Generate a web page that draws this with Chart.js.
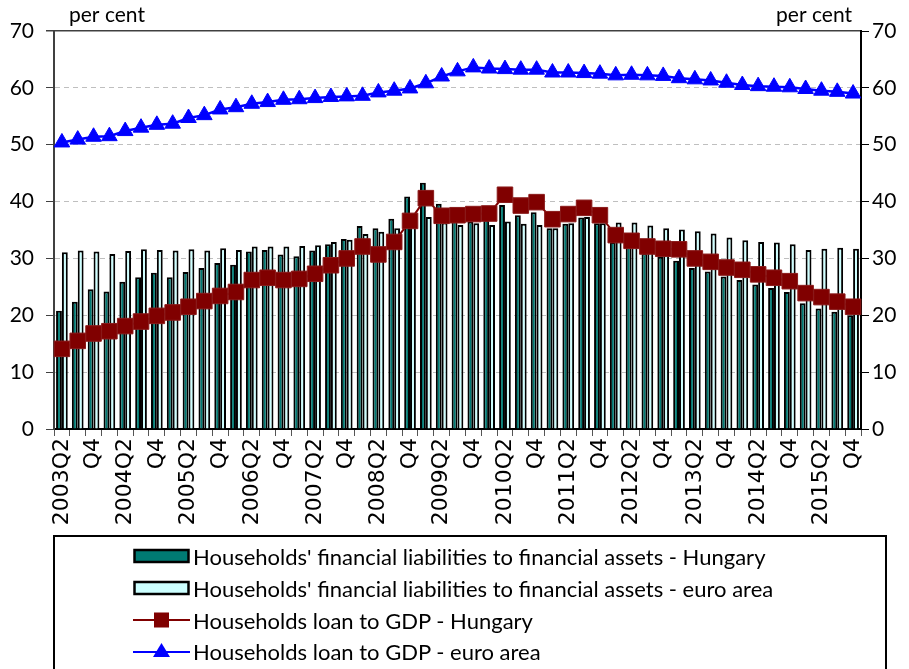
<!DOCTYPE html>
<html>
<head>
<meta charset="utf-8">
<script src="https://cdn.jsdelivr.net/npm/chart.js@4.4.1/dist/chart.umd.min.js"></script>
<style>
  html, body { margin: 0; padding: 0; background: #fff; }
  #wrap { position: relative; width: 909px; height: 669px; overflow: hidden; }
  #chart { display: block; }
  #legend {
    position: absolute; left: 53px; top: 535px; width: 834px; height: 140px;
    border: 2px solid #000; box-sizing: border-box;
    font-family: Lato, "Open Sans", sans-serif; font-size: 22px; color: #000;
  }
  .row { position: absolute; left: 78px; height: 28px; display: flex; align-items: center; white-space: nowrap; }
  .row svg { margin-right: 3px; }
</style>
</head>
<body>
<div id="wrap">
  <canvas id="chart" width="909" height="669"></canvas>
  <div id="legend"></div>
</div>
<script>
const categories = [
  '2003Q2','2003Q3','2003Q4',
  '2004Q1','2004Q2','2004Q3','2004Q4',
  '2005Q1','2005Q2','2005Q3','2005Q4',
  '2006Q1','2006Q2','2006Q3','2006Q4',
  '2007Q1','2007Q2','2007Q3','2007Q4',
  '2008Q1','2008Q2','2008Q3','2008Q4',
  '2009Q1','2009Q2','2009Q3','2009Q4',
  '2010Q1','2010Q2','2010Q3','2010Q4',
  '2011Q1','2011Q2','2011Q3','2011Q4',
  '2012Q1','2012Q2','2012Q3','2012Q4',
  '2013Q1','2013Q2','2013Q3','2013Q4',
  '2014Q1','2014Q2','2014Q3','2014Q4',
  '2015Q1','2015Q2','2015Q3','2015Q4'
];

const tickLabels = [
  '2003Q2','','Q4',
  '','2004Q2','','Q4',
  '','2005Q2','','Q4',
  '','2006Q2','','Q4',
  '','2007Q2','','Q4',
  '','2008Q2','','Q4',
  '','2009Q2','','Q4',
  '','2010Q2','','Q4',
  '','2011Q2','','Q4',
  '','2012Q2','','Q4',
  '','2013Q2','','Q4',
  '','2014Q2','','Q4',
  '','2015Q2','','Q4'
];

// liabilities to financial assets (bars)
const huLiabilities = [
  20.8, 22.4, 24.6, 24.2, 25.9, 26.7, 27.5, 26.7, 27.6, 28.3,
  29.2, 28.9, 31.2, 31.5, 30.7, 30.4, 31.4, 32.5, 33.4, 35.7,
  35.3, 37.0, 40.9, 43.3, 39.6, 36.8, 36.5, 36.8, 39.4, 37.6,
  38.1, 35.3, 36.1, 37.2, 36.2, 32.9, 32.1, 30.9, 30.3, 29.6,
  28.3, 27.7, 26.8, 26.2, 25.4, 24.8, 24.1, 22.1, 21.2, 20.6,
  20.0
];
const eaLiabilities = [
  31.1, 31.4, 31.2, 30.8, 31.3, 31.6, 31.5, 31.4, 31.6, 31.4,
  31.8, 31.5, 32.1, 32.1, 32.1, 32.2, 32.3, 32.9, 33.3, 34.3,
  34.7, 35.3, 35.9, 37.3, 36.3, 35.9, 36.2, 35.9, 36.5, 36.1,
  35.9, 35.3, 36.2, 37.3, 36.2, 36.3, 36.3, 35.8, 35.3, 35.1,
  34.8, 34.4, 33.7, 33.2, 32.9, 32.8, 32.5, 31.5, 31.7, 31.9,
  31.7
];

// loans to GDP (lines)
const huLoanGdp = [
  14.1, 15.5, 16.8, 17.2, 18.1, 18.9, 19.9, 20.5, 21.5, 22.5,
  23.4, 24.1, 26.2, 26.6, 26.2, 26.4, 27.3, 28.8, 30.0, 32.1,
  30.7, 32.9, 36.6, 40.6, 37.5, 37.6, 37.8, 37.9, 41.2, 39.3,
  39.9, 36.9, 37.8, 38.9, 37.6, 34.1, 33.1, 32.1, 31.7, 31.6,
  30.0, 29.4, 28.4, 28.0, 27.2, 26.6, 26.0, 23.9, 23.2, 22.4,
  21.5
];
const eaLoanGdp = [
  50.4, 50.9, 51.4, 51.5, 52.4, 53.0, 53.5, 53.7, 54.7, 55.2,
  56.2, 56.6, 57.2, 57.5, 57.9, 58.0, 58.2, 58.4, 58.5, 58.6,
  59.2, 59.5, 59.9, 60.8, 62.0, 62.9, 63.6, 63.4, 63.3, 63.2,
  63.2, 62.7, 62.7, 62.6, 62.5, 62.2, 62.3, 62.2, 62.1, 61.7,
  61.5, 61.3, 60.9, 60.5, 60.3, 60.2, 60.1, 59.8, 59.5, 59.3,
  59.0
];

const seriesNames = [
  "Households' financial liabilities to financial assets - Hungary",
  "Households' financial liabilities to financial assets - euro area",
  'Households loan to GDP - Hungary',
  'Households loan to GDP - euro area'
];

const tealFill = '#007A73';
const paleFill = '#CCFFFF';
const maroon = '#800000';
const blue = '#0000FF';
const gridGrey = '#BFBFBF';
const labelFont = 'Lato';

// "per cent" above both axes
const perCentPlugin = {
  id: 'perCent',
  afterDraw(chart) {
    const { ctx, chartArea } = chart;
    ctx.save();
    ctx.font = '21px ' + labelFont;
    ctx.fillStyle = '#000';
    ctx.textBaseline = 'alphabetic';
    ctx.textAlign = 'left';
    ctx.fillText('per cent', chartArea.left + 15, chartArea.top - 9);
    ctx.textAlign = 'right';
    ctx.fillText('per cent', chartArea.right - 9, chartArea.top - 9);
    ctx.restore();
  }
};

const yTicks = { stepSize: 10, color: '#000', font: { family: labelFont, size: 21 } };

new Chart(document.getElementById('chart'), {
  type: 'bar',
  data: {
    labels: categories,
    datasets: [
      {
        type: 'line', label: seriesNames[3], data: eaLoanGdp, order: 0,
        borderColor: blue, backgroundColor: blue, borderWidth: 2.5,
        pointStyle: 'triangle', pointRadius: 9, pointBorderWidth: 1,
        pointBorderColor: blue, pointBackgroundColor: blue, tension: 0
      },
      {
        type: 'line', label: seriesNames[2], data: huLoanGdp, order: 0,
        borderColor: maroon, backgroundColor: maroon, borderWidth: 2,
        pointStyle: 'rect', pointRadius: 11, pointBorderWidth: 1,
        pointBorderColor: '#8a1a1a', pointBackgroundColor: maroon, tension: 0
      },
      {
        label: seriesNames[0], data: huLiabilities, order: 1,
        backgroundColor: tealFill, borderColor: '#000', borderWidth: 2,
        categoryPercentage: 0.74, barPercentage: 1.0
      },
      {
        label: seriesNames[1], data: eaLiabilities, order: 1,
        backgroundColor: paleFill, borderColor: '#000', borderWidth: 2,
        categoryPercentage: 0.74, barPercentage: 1.0
      }
    ]
  },
  options: {
    responsive: false,
    animation: false,
    layout: { padding: { top: 31, left: 0, right: 0, bottom: 0 } },
    plugins: {
      legend: { display: false },
      tooltip: { enabled: false }
    },
    scales: {
      x: {
        grid: {
          offset: true, drawOnChartArea: false, drawTicks: true,
          tickLength: 7, tickColor: '#555', lineWidth: 1
        },
        border: { color: '#000', width: 2 },
        ticks: {
          autoSkip: false, maxRotation: 90, minRotation: 90, padding: 2,
          color: '#000', font: { family: 'DejaVu Sans', size: 22 },
          callback: (v, i) => tickLabels[i]
        },
        afterFit(s) { s.height = 240; }
      },
      y: {
        position: 'left', min: 0, max: 70,
        ticks: Object.assign({ padding: 12 }, yTicks),
        grid: {
          color: c => c.tick.value === 70 ? '#404040' : (c.tick.value === 0 ? 'rgba(0,0,0,0)' : gridGrey),
          lineWidth: c => c.tick.value === 70 ? 1.5 : 1,
          tickColor: '#404040', tickLength: 8
        },
        border: {
          color: '#404040', width: 2,
          dash: c => (c.tick && c.tick.value !== 70) ? [5, 4] : []
        },
        afterFit(s) { s.width = 54; }
      },
      y2: {
        position: 'right', min: 0, max: 70,
        ticks: Object.assign({ padding: 3 }, yTicks),
        grid: { drawOnChartArea: false, tickColor: '#000', tickLength: 8 },
        border: { color: '#000', width: 2 },
        afterFit(s) { s.width = 48; }
      }
    }
  },
  plugins: [perCentPlugin]
});

// legend below the plot
const legendRows = [
  { name: seriesNames[0], kind: 'bar', color: tealFill },
  { name: seriesNames[1], kind: 'bar', color: paleFill },
  { name: seriesNames[2], kind: 'rect', color: maroon },
  { name: seriesNames[3], kind: 'tri', color: blue }
];
const rowTops = [5, 37, 69, 100];
const legendBox = document.getElementById('legend');
legendRows.forEach((r, i) => {
  let svg;
  if (r.kind === 'bar') {
    svg = `<svg width="57" height="16"><rect x="1.5" y="2" width="54" height="12" fill="${r.color}" stroke="#000" stroke-width="2.5"/></svg>`;
  } else if (r.kind === 'rect') {
    svg = `<svg width="57" height="18"><line x1="0" y1="9" x2="57" y2="9" stroke="${r.color}" stroke-width="2"/><rect x="21" y="1.5" width="15" height="15" fill="${r.color}"/></svg>`;
  } else {
    svg = `<svg width="57" height="18"><line x1="0" y1="10" x2="57" y2="10" stroke="${r.color}" stroke-width="2"/><polygon points="28.5,1 37,15 20,15" fill="${r.color}"/></svg>`;
  }
  const row = document.createElement('div');
  row.className = 'row';
  row.style.top = rowTops[i] + 'px';
  row.innerHTML = svg + '<span>' + r.name + '</span>';
  legendBox.appendChild(row);
});
</script>
</body>
</html>
